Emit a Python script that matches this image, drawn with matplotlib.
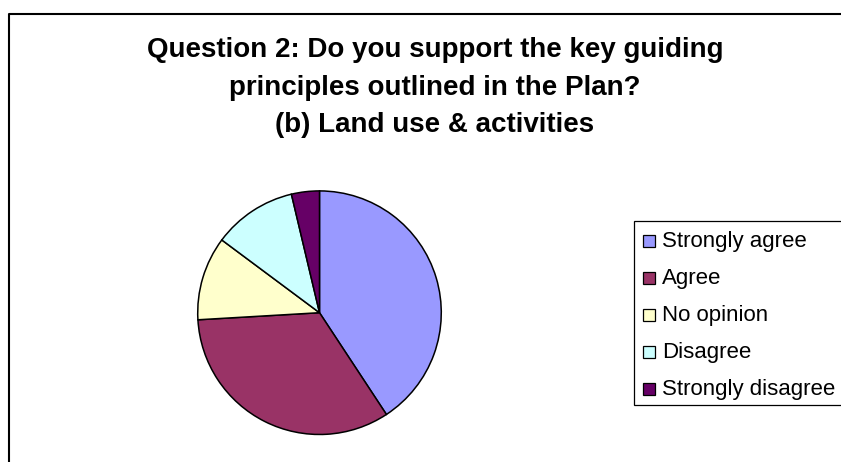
import matplotlib.pyplot as plt
from matplotlib.lines import Line2D
from matplotlib.patches import Rectangle

plt.rcParams['font.family'] = ['Liberation Sans', 'DejaVu Sans']

labels = ['Strongly agree', 'Agree', 'No opinion', 'Disagree', 'Strongly disagree']
counts = [11, 9, 3, 3, 1]
colors = ['#9999FF', '#993366', '#FFFFCC', '#CCFFFF', '#660066']

title_lines = ['Question 2: Do you support the key guiding',
               'principles outlined in the Plan?',
               '(b) Land use & activities']

W, H = 841, 462
fig = plt.figure(figsize=(W / 100, H / 100), dpi=100)


def fx(px):
    return px / W


def fy(py):
    # pixel rows are counted from the top
    return 1 - py / H


# chart area border (left and top edges only, rest runs off the canvas)
fig.add_artist(Line2D([fx(9), fx(9), 1.0], [0.0, fy(14), fy(14)],
                      transform=fig.transFigure, color='black', lw=1.5))

# title, centred on the (wider) chart area
for line, base in zip(title_lines, [57, 95, 132]):
    fig.text(fx(435), fy(base), line, ha='center', va='baseline',
             fontsize=20, fontweight='bold')

# pie centred at (319.5, 312.7) px, radius 123 px
r = 123
cx, cy = 319.5, 312.7
ax = fig.add_axes([fx(cx - r), (H - cy - r) / H, 2 * r / W, 2 * r / H])
wedges, _ = ax.pie(counts, colors=colors, startangle=90, counterclock=False,
                   radius=1.0, wedgeprops=dict(edgecolor='black', linewidth=1.1))
ax.set_xlim(-1.01, 1.01)
ax.set_ylim(-1.01, 1.01)
ax.set_aspect('equal')
ax.axis('off')

# legend box
fig.add_artist(Rectangle((fx(634), fy(405)), fx(880 - 634), (405 - 221) / H,
                         transform=fig.transFigure, facecolor='white',
                         edgecolor='black', lw=0.9))
for i, (lab, col) in enumerate(zip(labels, colors)):
    base = 246.5 + i * 37.1
    fig.add_artist(Rectangle((fx(643), fy(base)), 12 / W, 12 / H,
                             transform=fig.transFigure, facecolor=col,
                             edgecolor='black', lw=0.9))
    fig.text(fx(662), fy(base), lab, ha='left', va='baseline', fontsize=16)

fig.savefig('out.png', dpi=100, facecolor='white')
